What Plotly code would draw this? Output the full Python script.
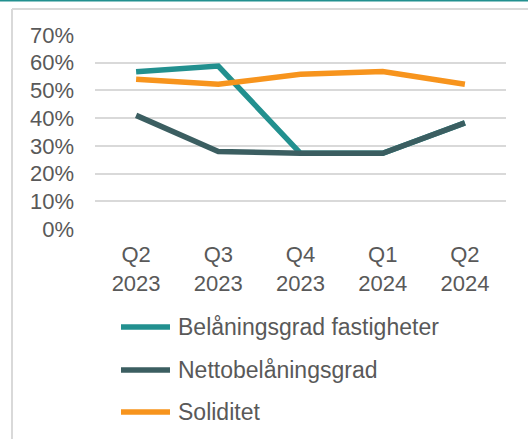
import plotly.graph_objects as go

categories = ["Q2<br>2023", "Q3<br>2023", "Q4<br>2023", "Q1<br>2024", "Q2<br>2024"]
belaningsgrad = [56.7, 58.8, 27.3, 27.3, 38.3]
netto = [41.0, 28.0, 27.3, 27.3, 38.3]
soliditet = [54.0, 52.2, 55.8, 56.8, 52.2]

series = [
    ("Belåningsgrad fastigheter", belaningsgrad, "#22908F"),
    ("Nettobelåningsgrad", netto, "#3B5E61"),
    ("Soliditet", soliditet, "#F7941D"),
]

fig = go.Figure()
draw_order = [0, 2, 1]
for i in draw_order:
    name, vals, col = series[i]
    fig.add_trace(go.Scatter(
        x=categories, y=vals, name=name, mode="lines",
        line=dict(color=col, width=5.5),
        showlegend=False,
    ))

W, H = 528, 439
ml, mr, mt, mb = 95, 22, 35, 210
pw, ph = W - ml - mr, H - mt - mb

def px_to_paper_x(px):
    return (px - ml) / pw

def px_to_paper_y(py):
    return (H - mb - py) / ph

shapes = [
    dict(type="line", xref="paper", yref="paper",
         x0=px_to_paper_x(12), x1=px_to_paper_x(540),
         y0=px_to_paper_y(9), y1=px_to_paper_y(9),
         line=dict(color="#D9D9D9", width=2)),
    dict(type="line", xref="paper", yref="paper",
         x0=px_to_paper_x(12), x1=px_to_paper_x(12),
         y0=px_to_paper_y(9), y1=px_to_paper_y(450),
         line=dict(color="#D9D9D9", width=2)),
    dict(type="line", xref="paper", yref="paper",
         x0=px_to_paper_x(-5), x1=px_to_paper_x(540),
         y0=px_to_paper_y(0.5), y1=px_to_paper_y(0.5),
         line=dict(color="#22908F", width=2)),
]
annotations = []

# legend drawn manually (keeps plot area fixed)
legend_rows_px = [327, 370, 412]
for (name, _, col), ypx in zip(series, legend_rows_px):
    shapes.append(dict(type="line", xref="paper", yref="paper",
                       x0=px_to_paper_x(121), x1=px_to_paper_x(170),
                       y0=px_to_paper_y(ypx), y1=px_to_paper_y(ypx),
                       line=dict(color=col, width=5.5)))
    annotations.append(dict(xref="paper", yref="paper",
                            x=px_to_paper_x(176), y=px_to_paper_y(ypx),
                            xanchor="left", yanchor="middle", showarrow=False,
                            text=name, font=dict(size=23, color="#595959")))

fig.update_layout(
    width=W, height=H,
    margin=dict(l=ml, r=mr, t=mt, b=mb),
    paper_bgcolor="white", plot_bgcolor="white",
    font=dict(family="Liberation Sans, Arial, sans-serif", size=22, color="#595959"),
    showlegend=False,
    xaxis=dict(
        type="category", showgrid=False, zeroline=False, showline=False,
        ticks="", tickfont=dict(size=22, color="#595959"),
        range=[-0.5, 4.5], ticklabelstandoff=10,
    ),
    yaxis=dict(
        range=[0, 70], dtick=10, ticksuffix="%",
        showgrid=True, gridcolor="#D9D9D9", gridwidth=1.5,
        zeroline=False, showline=False, ticks="",
        tickfont=dict(size=22, color="#595959"),
        ticklabelstandoff=20,
    ),
    shapes=shapes,
    annotations=annotations,
)

fig.write_html(
    "out.html",
    config={"displayModeBar": False},
    post_script="document.body.style.margin='0';document.body.style.overflow='hidden';",
)
